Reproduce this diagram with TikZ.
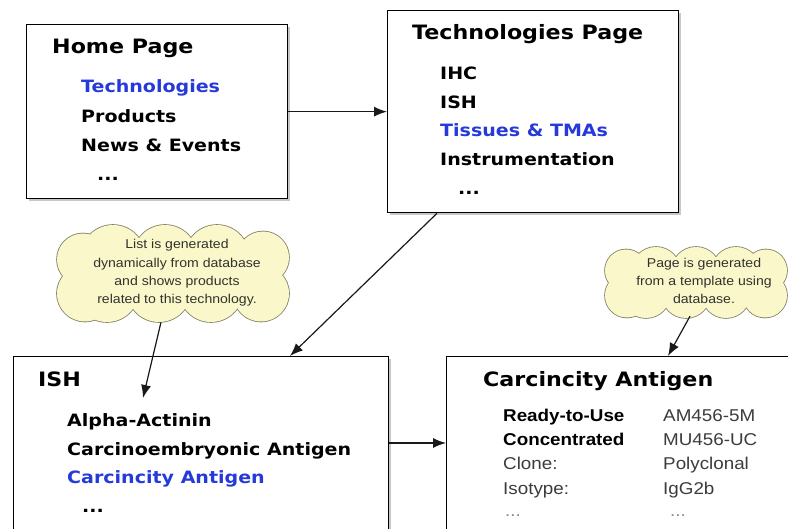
\documentclass[tikz,border=0pt]{standalone}
\usepackage{fontspec}
\setmainfont{DejaVu Sans}[FakeStretch=1.12]
\newfontfamily\helv{Liberation Sans}[FakeStretch=1.1]
\usetikzlibrary{arrows.meta,shadows,calc}
\definecolor{linkblue}{RGB}{38,58,218}
\definecolor{notefill}{RGB}{250,247,202}
\definecolor{noteline}{RGB}{130,128,100}
\definecolor{notetext}{RGB}{50,50,45}
\definecolor{rowgray}{RGB}{60,60,60}
% puffs of the two notes: x/y/radius, relative to the note centre
\def\noteonepuffs{-60/-16.5/32, -8/-16.5/32, 44/-16.5/32, 90/-16/26, 88/20/28,
  38/16.5/32, -14/16.5/32, -66/16.5/32, -90/-14/26, -88/20/28}
\def\notetwopuffs{-40/-11/24.5, 0/-11/24.5, 40/-11/24.5, 70/-12/21, 69/13/22,
  30/11/24.5, -10/11/24.5, -50/11/24.5, -70/-12/21, -69/13/22}
\begin{document}
\begin{tikzpicture}[x=1pt,y=-1pt,
  page/.style={draw=black, line width=1.3pt, fill=white, anchor=north west,
    inner sep=0pt,
    drop shadow={shadow xshift=2.5pt, shadow yshift=-2.5pt, opacity=.3, fill=black!70}},
  notearea/.style={inner sep=0pt},
  notetxt/.style={font=\helv\fontsize{12.8}{18.3}\selectfont, align=center,
    text=notetext, inner sep=0pt},
  ttl/.style={anchor=base west, inner sep=0pt, font=\bfseries\fontsize{19.8}{23}\selectfont},
  itm/.style={anchor=base west, inner sep=0pt, font=\bfseries\fontsize{17}{20}\selectfont},
  lnk/.style={itm, text=linkblue},
  rowkey/.style={anchor=base west, inner sep=0pt, font=\helv\bfseries\fontsize{17.1}{20}\selectfont},
  rowval/.style={anchor=base west, inner sep=0pt, font=\helv\fontsize{17.1}{20}\selectfont, text=rowgray},
  link/.style={draw=black!90, line width=1.2pt, -{Latex[length=13pt,width=10pt]}}]
\useasboundingbox (0,0) rectangle (788,529);
\clip (0,0) rectangle (788,529);
\fill[white] (0,0) rectangle (788,529);

% page boxes
\node[page, minimum width=261pt, minimum height=174pt] (home) at (26,24) {};
\node[page, minimum width=291pt, minimum height=202pt] (tech) at (387,10) {};
\node[page, minimum width=375pt, minimum height=200pt] (ish) at (13,356) {};
\node[page, minimum width=360pt, minimum height=200pt] (carc) at (446,356) {};

% home page contents
\node[ttl] (homettl) at (52,54) {Home Page};
\node[lnk] (hometech) at (81,93) {Technologies};
\node[itm] (homeprod) at (81,122.5) {Products};
\node[itm] (homenews) at (81,151.5) {News \& Events};
\node[itm] (homemore) at (97,181) {...};

% technologies page contents
\node[ttl] (techttl) at (412,39.5) {Technologies Page};
\node[itm] (techihc) at (440,80) {IHC};
\node[itm] (techish) at (440,108.5) {ISH};
\node[lnk] (techtis) at (440,137) {Tissues \& TMAs};
\node[itm] (techins) at (440,166) {Instrumentation};
\node[itm] (techmore) at (458,195) {...};

% ISH page contents
\node[ttl] (ishttl) at (38,387) {ISH};
\node[itm] (ishalpha) at (67,427) {Alpha-Actinin};
\node[itm] (ishcea) at (67,456) {Carcinoembryonic Antigen};
\node[lnk] (ishca) at (67,484) {Carcincity Antigen};
\node[itm] (ishmore) at (82,512) {...};

% product page contents
\node[ttl] (carcttl) at (483,387) {Carcincity Antigen};
\node[rowkey] (k1) at (503,421.5) {Ready-to-Use};
\node[rowval] (v1) at (663,421.5) {AM456-5M};
\node[rowkey] (k2) at (503,446) {Concentrated};
\node[rowval] (v2) at (663,446) {MU456-UC};
\node[rowval] (k3) at (503,469.5) {Clone:};
\node[rowval] (v3) at (663,469.5) {Polyclonal};
\node[rowval] (k4) at (503,494) {Isotype:};
\node[rowval] (v4) at (663,494) {IgG2b};
\node[rowval, text=black!45] (k5) at (505,516) {...};
\node[rowval, text=black!45] (v5) at (670,516) {...};

% note areas
\node[notearea, minimum width=232pt, minimum height=97pt] (c1) at (173,273.5) {};
\node[notearea, minimum width=182pt, minimum height=71pt] (c2) at (696,282.5) {};

% cloud outlines: stroke every puff twice as wide, then fill them all on top
\begin{scope}[shift={(c1.center)}]
  \foreach \px/\py/\pr in \noteonepuffs
    \draw[noteline, line width=1.6pt] (\px,\py) circle[radius=\pr pt];
  \foreach \px/\py/\pr in \noteonepuffs
    \fill[notefill] (\px,\py) circle[radius=\pr pt];
  \fill[notefill] (-88,-16) rectangle (86,16);
\end{scope}
\begin{scope}[shift={(c2.center)}]
  \foreach \px/\py/\pr in \notetwopuffs
    \draw[noteline, line width=1.6pt] (\px,\py) circle[radius=\pr pt];
  \foreach \px/\py/\pr in \notetwopuffs
    \fill[notefill] (\px,\py) circle[radius=\pr pt];
  \fill[notefill] (-68,-11) rectangle (68,11);
\end{scope}

\node[notetxt] (c1t) at (177,273) {List is generated\\dynamically from database\\and shows products\\related to this technology.};
\node[notetxt] (c2t) at (704,281) {Page is generated\\from a template using\\database.};

% connectors
\draw[link] (home) -- (tech);
\draw[link] ($(tech.south west)+(50,0)$) -- ($(ish.north west)+(277,0)$);
\draw[link] ($(ish.north east)+(0,87)$) -- ($(carc.north west)+(0,87)$);
\draw[link] ($(c1.south)+(-12,0)$) -- ($(ish.north west)+(130,42)$);
\draw[link] ($(c2.south)+(-6,-2)$) -- ($(carc.north west)+(222,0)$);
\end{tikzpicture}
\end{document}
